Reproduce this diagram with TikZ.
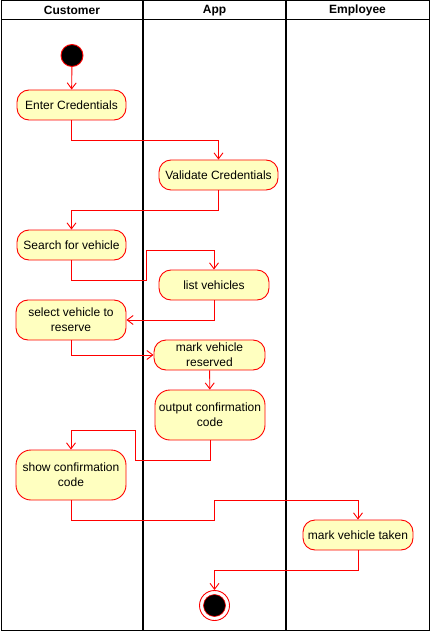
\documentclass[tikz,border=0pt]{standalone}
\usepackage{fontspec}
\setmainfont{Liberation Sans}
\usetikzlibrary{arrows.meta}
\definecolor{actfill}{HTML}{FFFFC0}
\definecolor{actline}{HTML}{FF0000}
\tikzset{
  act/.style={draw=actline, fill=actfill, line width=0.9pt, rounded corners=12pt,
    align=center, inner sep=0pt, font=\fontsize{12}{15}\selectfont, text=black},
  flow/.style={draw=actline, line width=0.9pt, -{Straight Barb[length=6pt,width=9pt]}},
  lane/.style={draw=black, line width=1pt},
  hdr/.style={font=\fontsize{12}{14}\selectfont\bfseries}
}
\begin{document}
\begin{tikzpicture}[x=1pt,y=-1pt]
\useasboundingbox (0,0) rectangle (431,631);
\fill[white] (0,0) rectangle (431,631);
% lanes
\draw[lane] (1,1) rectangle (142.5,630); \draw[lane] (1,20) -- (142.5,20);
\draw[lane] (143.5,1) rectangle (285.5,630); \draw[lane] (143.5,20) -- (285.5,20);
\draw[lane] (286.5,1) rectangle (429,630); \draw[lane] (286.5,20) -- (429,20);
\node[hdr] (hc) at (72,10.5) {Customer};
\node[hdr] (ha) at (214.5,10.5) {App};
\node[hdr] (he) at (357.5,10.5) {Employee};
% start / end
\node[circle, draw=actline, fill=black, line width=0.9pt, minimum size=22pt, inner sep=0pt] (start) at (72,55.5) {};
\node[circle, draw=actline, fill=white, line width=0.9pt, minimum size=30pt, inner sep=0pt] (end) at (214.5,605.5) {};
\node[circle, draw=actline, fill=black, line width=0.6pt, minimum size=22pt, inner sep=0pt] (endin) at (214.5,605.5) {};
% activities
\node[act, minimum width=109pt, minimum height=30pt] (enter) at (71.5,105) {Enter Credentials};
\node[act, minimum width=119pt, minimum height=30pt] (validate) at (218.5,175) {Validate Credentials};
\node[act, minimum width=109pt, minimum height=30pt] (search) at (71.5,245) {Search for vehicle};
\node[act, minimum width=110pt, minimum height=30pt] (list) at (214,285) {list vehicles};
\node[act, minimum width=110pt, minimum height=40pt] (select) at (71,320) {select vehicle to\\reserve};
\node[act, minimum width=111pt, minimum height=30pt] (mark) at (209.5,355) {mark vehicle\\reserved};
\node[act, minimum width=110pt, minimum height=50pt, rounded corners=15pt] (output) at (210,415) {output confirmation\\code};
\node[act, minimum width=110pt, minimum height=50pt, rounded corners=15pt] (show) at (71,475) {show confirmation\\code};
\node[act, minimum width=110pt, minimum height=30pt] (taken) at (358,535) {mark vehicle taken};
% flows
\draw[flow] (start) -- (enter);
\draw[flow] (enter.south) -- ++(0,20) -| (validate.north);
\draw[flow] (validate.south) -- ++(0,20) -| (search.north);
\draw[flow] (search.south) |- (146,280) -- (146,250) -| (list.north);
\draw[flow] (list.south) |- (select.east);
\draw[flow] (select.south) |- (mark.west);
\draw[flow] (mark) -- (output);
\draw[flow] (output.south) |- (135,460) -- (135,430) -| (show.north);
\draw[flow] (show.south) |- (214,520) -- (214,500) -| (taken.north);
\draw[flow] (taken.south) -- ++(0,20) -| (end.north);
\end{tikzpicture}
\end{document}
